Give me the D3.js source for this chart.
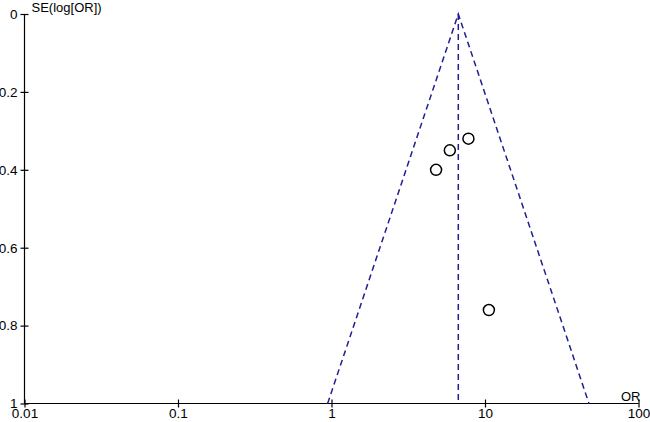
<!DOCTYPE html>
<html>
<head>
<meta charset="utf-8">
<script src="https://cdn.jsdelivr.net/npm/d3@7"></script>
<style>
  body { margin: 0; background: #fff; }
  svg { display: block; font-family: Arial, "Liberation Sans", sans-serif; }
</style>
</head>
<body>
<svg id="chart"></svg>
<script>
// study estimates
var studyOR = [7.8, 5.9, 4.8, 10.6];
var studySE = [0.32, 0.35, 0.40, 0.76];
var pooledOR = 6.7;            // summary estimate (vertical line)
var xTicks = [0.01, 0.1, 1, 10, 100];
var yTicks = [0, 0.2, 0.4, 0.6, 0.8, 1];

function run() {
  var W = 650, H = 422;
  var margin = { left: 24.5, top: 14, right: 11.5, bottom: 18.5 };
  var width = W - margin.left - margin.right;
  var height = H - margin.top - margin.bottom;

  var svg = d3.select("#chart").attr("width", W).attr("height", H);
  var g = svg.append("g").attr("transform", `translate(${margin.left},${margin.top})`);

  var x = d3.scaleLog().domain([0.01, 100]).range([0, width]);
  var y = d3.scaleLinear().domain([0, 1]).range([0, height]);

  // axes, ticks cross the line
  var yAxis = g.append("g").call(d3.axisLeft(y).tickValues(yTicks).tickSize(4).tickFormat(d3.format("~g")));
  yAxis.selectAll(".tick line").attr("x2", -4).attr("x1", 4);
  var xAxis = g.append("g").attr("transform", `translate(0,${height})`)
    .call(d3.axisBottom(x).tickValues(xTicks).tickSize(4).tickFormat(d => String(d)));
  xAxis.selectAll(".tick line").attr("y1", -4).attr("y2", 4);
  g.selectAll(".domain").attr("d", null);
  g.append("line").attr("x1", 0).attr("x2", 0).attr("y1", 0).attr("y2", height).attr("stroke", "#000").attr("stroke-width", 1.2);
  g.append("line").attr("x1", 0).attr("x2", width).attr("y1", height).attr("y2", height).attr("stroke", "#000").attr("stroke-width", 1.2);
  g.selectAll(".tick line").attr("stroke", "#000").attr("stroke-width", 1.2);
  g.selectAll(".tick text").attr("font-size", 13.5).attr("fill", "#000").attr("font-family", "Arial, 'Liberation Sans', sans-serif");
  yAxis.selectAll(".tick text").attr("x", -7).attr("dy", "0.32em");
  xAxis.selectAll(".tick text").attr("y", 5).attr("dy", "0.71em");

  // axis titles
  g.append("text").attr("x", 7).attr("y", -2).attr("font-size", 13).text("SE(log[OR])");
  g.append("text").attr("x", width + 2).attr("y", height - 3).attr("text-anchor", "end").attr("font-size", 13).text("OR");

  // pseudo 95% confidence funnel
  var lnC = Math.log(pooledOR);
  var funnel = [
    [Math.exp(lnC - 1.96), 1],
    [pooledOR, 0],
    [Math.exp(lnC + 1.96), 1]
  ];
  var dash = "6,4";
  var navy = "#1f1f8f";
  g.append("path")
    .attr("d", d3.line().x(d => x(d[0])).y(d => y(d[1]))(funnel))
    .attr("fill", "none").attr("stroke", navy).attr("stroke-width", 1.5).attr("stroke-dasharray", dash);
  g.append("line")
    .attr("x1", x(pooledOR)).attr("x2", x(pooledOR)).attr("y1", y(0)).attr("y2", y(1))
    .attr("stroke", navy).attr("stroke-width", 1.5).attr("stroke-dasharray", dash);

  // study points
  g.selectAll(".pt").data(studyOR.map((d, i) => [d, studySE[i]]))
    .enter().append("circle").attr("class", "pt")
    .attr("cx", d => x(d[0])).attr("cy", d => y(d[1])).attr("r", 5.5)
    .attr("fill", "none").attr("stroke", "#000").attr("stroke-width", 1.5);
}

run();
</script>
</body>
</html>
